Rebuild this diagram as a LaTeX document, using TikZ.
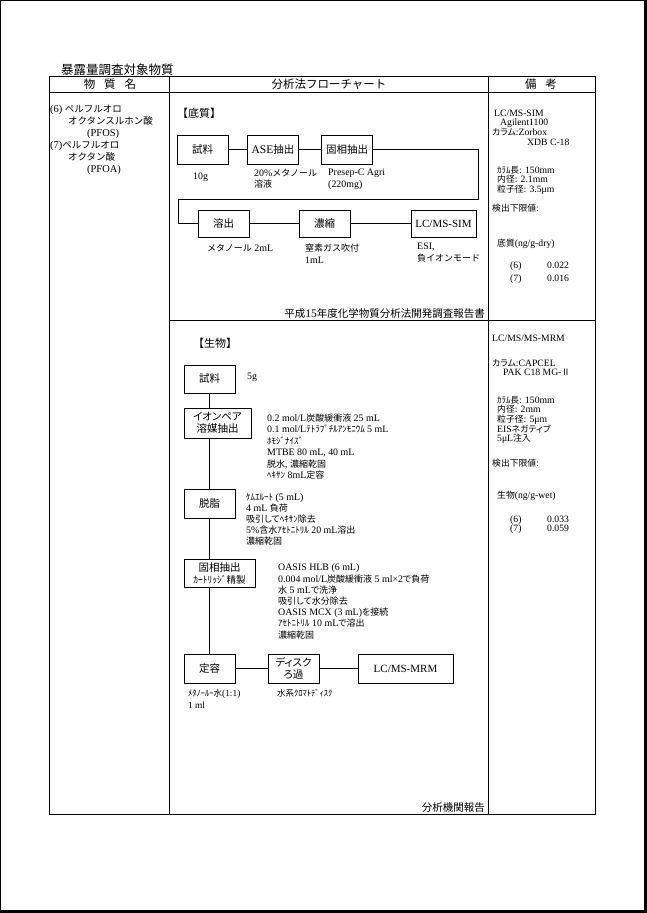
\documentclass[tikz,border=0pt]{standalone}
\usepackage{fontspec}
\setmainfont{Liberation Serif}[Scale=1.1]
\newfontfamily\jpmono{Noto Sans CJK JP}
\newfontfamily\jpprop[RawFeature=+palt]{Noto Sans CJK JP}
\usetikzlibrary{calc}

% Japanese characters are set in the CJK font, the rest in the main font
\newcommand\jpcur{\jpmono}
\newcommand\propjp{\let\jpcur\jpprop}
\XeTeXinterchartokenstate=1
\newXeTeXintercharclass\jpclass
\newcount\jpcode
\newcommand\jprange[2]{%
  \jpcode=#1\relax
  \loop
    \XeTeXcharclass\jpcode=\jpclass
    \advance\jpcode by 1
  \ifnum\jpcode<#2\relax\repeat}
\jprange{"2160}{"2180}
\jprange{"3000}{"3100}
\jprange{"4E00}{"A000}
\jprange{"FF00}{"FFF0}
\XeTeXinterchartoks 0 \jpclass = {\jpcur}
\XeTeXinterchartoks 4095 \jpclass = {\jpcur}
\XeTeXinterchartoks \jpclass 0 = {\rmfamily}
\XeTeXinterchartoks \jpclass 4095 = {\rmfamily}

\begin{document}
\lineskiplimit=-9pt
\begin{tikzpicture}[
    x=1pt, y=-1pt,
    grid/.style={line width=0.9pt},
    link/.style={line width=0.8pt},
    head/.style={inner sep=0pt, font=\fontsize{11.5}{13}\selectfont},
    stepbox/.style={draw, line width=0.9pt, inner sep=0pt, minimum width=51pt,
                    minimum height=29pt, align=center,
                    font=\fontsize{10.5}{12}\selectfont\propjp},
    memo/.style={inner sep=0pt, anchor=west, font=\fontsize{9}{11.5}\selectfont},
    block/.style={memo, anchor=north west, align=left},
    remark/.style={block, font=\fontsize{8.8}{9.6}\selectfont\propjp}
  ]

  \useasboundingbox (0,0) rectangle (647,913);

  % Page frame with its shadow
  \draw[line width=1pt] (0.5,0.5) rectangle (644,910);
  \fill (643.7,0) rectangle (647,913);
  \fill (0,909.5) rectangle (647,913);

  % Title and table
  \node[inner sep=0pt, anchor=west, font=\fontsize{12.5}{14}\selectfont] (title)
    at (61,69.5) {暴露量調査対象物質};
  \draw[grid] (49.5,76) rectangle (595,814);
  \draw[grid] (49.5,92) -- (595,92);
  \foreach \x in {169.5,488}
    \draw[grid] (\x,76) -- (\x,814);
  \draw[grid] (169.5,320) -- (595,320);

  \node[head] (hname) at (110,84) {物\hspace{9pt}質\hspace{9pt}名};
  \node[head] (hflow) at (329,84) {分析法フローチャート};
  \node[head] (hnote) at (541,84) {備\hspace{9pt}考};

  % Target substances
  \node[block, font=\fontsize{9.5}{12}\selectfont] (target) at (50,104.6)
    {(6) ペルフルオロ\\\hspace*{18pt}オクタンスルホン酸\\\hspace*{37pt}(PFOS)\\
     (7)ペルフルオロ\\\hspace*{18pt}オクタン酸\\\hspace*{37pt}(PFOA)};

  % Sediment flow
  \node[inner sep=0pt, anchor=west, font=\fontsize{11}{13}\selectfont] (sedi)
    at (177,113.5) {【底質】};
  \node[stepbox] (sample1) at (202.5,149.5) {試料};
  \node[stepbox] (ase) at (273,149.5) {ASE抽出};
  \node[stepbox] (spe1) at (347,149.5) {固相抽出};
  \node[stepbox, minimum height=27pt] (elute) at (223.5,223.5) {溶出};
  \node[stepbox, minimum height=27pt] (conc) at (324.5,223.5) {濃縮};
  \node[stepbox, minimum width=65pt, minimum height=27pt,
        font=\fontsize{10}{12}\selectfont] (lcms1) at (443.5,223.5) {LC/MS-SIM};

  \coordinate (turnR) at (478,199);
  \coordinate (turnL) at (178,199);
  \foreach \a/\b in {sample1/ase, ase/spe1, elute/conc, conc/lcms1}
    \draw[link] (\a.east) -- (\b.west);
  \draw[link] (spe1.east) -| (turnR) -- (turnL) |- (elute.west);

  \node[memo] (m10g) at (193,177) {10g};
  \node[block] (mase) at (254,168.8) {20\%メタノール\\溶液};
  \node[block] (mpresep) at (328,168.8) {Presep-C Agri\\(220mg)};
  \node[memo] (mmeoh) at (207,248) {メタノール 2mL};
  \node[block] (mnitro) at (305,243.8) {窒素ガス吹付\\1mL};
  \node[block] (mesi) at (417,242.8) {ESI,\\負イオンモード};

  \node[inner sep=0pt, anchor=east, font=\fontsize{10.5}{12}\selectfont] (src1)
    at (485,314) {平成15年度化学物質分析法開発調査報告書};

  % Biota flow
  \node[inner sep=0pt, anchor=west, font=\fontsize{11}{13}\selectfont] (bio)
    at (193,343) {【生物】};
  \node[stepbox, minimum height=28pt] (sample2) at (209.5,379) {試料};
  \node[stepbox, minimum width=67pt, minimum height=30pt] (ionpair)
    at (217.5,423) {イオンペア\\溶媒抽出};
  \node[stepbox] (defat) at (209.5,503.5) {脱脂};
  \node[stepbox, minimum width=71pt, minimum height=28pt] (spe2)
    at (219.5,573) {固相抽出\\{\fontsize{9.5}{10}\selectfont ｶｰﾄﾘｯｼﾞ精製}};
  \node[stepbox] (vol) at (209.5,668.5) {定容};
  \node[stepbox] (filt) at (293.5,668.5) {ディスク\\ろ過};
  \node[stepbox, minimum width=95pt, font=\fontsize{10}{12}\selectfont] (lcms2)
    at (405.5,668.5) {LC/MS-MRM};

  \foreach \a/\b in {sample2/ionpair, ionpair/defat, defat/spe2, spe2/vol}
    \draw[link] (\a.south -| sample2.south) -- (\b.north -| sample2.south);
  \foreach \a/\b in {vol/filt, filt/lcms2}
    \draw[link] (\a.east) -- (\b.west);

  \node[memo] (m5g) at (247,377) {5g};
  \node[block, font=\fontsize{9}{11.4}\selectfont\propjp] (mionpair) at (267,413.8)
    {0.2 mol/L炭酸緩衝液 25 mL\\0.1 mol/Lﾃﾄﾗﾌﾞﾁﾙｱﾝﾓﾆｳﾑ 5 mL\\ﾎﾓｼﾞﾅｲｽﾞ\\
     MTBE 80 mL, 40 mL\\脱水, 濃縮乾固\\ﾍｷｻﾝ 8mL定容};
  \node[block, font=\fontsize{9}{11}\selectfont\propjp] (mdefat) at (246,493.8)
    {ｹﾑｴﾙｰﾄ (5 mL)\\4 mL 負荷\\吸引してﾍｷｻﾝ除去\\5\%含水ｱｾﾄﾆﾄﾘﾙ 20 mL溶出\\濃縮乾固};
  \node[block, font=\fontsize{9}{11.2}\selectfont\propjp] (mspe2) at (278,563.8)
    {OASIS HLB (6 mL)\\0.004 mol/L炭酸緩衝液 5 ml×2で負荷\\水 5 mLで洗浄\\
     吸引して水分除去\\OASIS MCX (3 mL)を接続\\ｱｾﾄﾆﾄﾘﾙ 10 mLで溶出\\濃縮乾固};
  \node[block, font=\fontsize{8.5}{12}\selectfont\propjp] (mvol) at (188,689)
    {ﾒﾀﾉｰﾙｰ水(1:1)\\1 ml};
  \node[memo, font=\fontsize{8.5}{10}\selectfont\propjp] (mfilt) at (277,693)
    {水系ｸﾛﾏﾄﾃﾞｨｽｸ};

  \node[inner sep=0pt, anchor=east, font=\fontsize{10.5}{12}\selectfont] (src2)
    at (485,808) {分析機関報告};

  % Remarks
  \node[remark] (note1) at (492,109.6)
    {\hspace*{2pt}LC/MS-SIM\\\hspace*{8pt}Agilent1100\\カラム:Zorbox\\
     \hspace*{35pt}XDB C-18\\[18.6pt]
     \hspace*{5pt}ｶﾗﾑ長: 150mm\\\hspace*{5pt}内径: 2.1mm\\
     \hspace*{5pt}粒子径: 3.5μm\\[9.2pt]
     検出下限値:\\[25.4pt]
     \hspace*{5pt}底質(ng/g-dry)\\[12.4pt]
     \hspace*{18pt}\makebox[37pt][l]{(6)}0.022\\[3.4pt]
     \hspace*{18pt}\makebox[37pt][l]{(7)}0.016};
  \node[remark] (note2) at (492,334.6)
    {LC/MS/MS-MRM\\[15.4pt]
     カラム:CAPCEL\\\hspace*{11pt}PAK C18 MG-Ⅱ\\[17.8pt]
     \hspace*{5pt}ｶﾗﾑ長: 150mm\\\hspace*{5pt}内径: 2mm\\
     \hspace*{5pt}粒子径: 5μm\\\hspace*{5pt}EISネガティブ\\
     \hspace*{5pt}5μL注入\\[15pt]
     検出下限値:\\[22.4pt]
     \hspace*{5pt}生物(ng/g-wet)\\[14.4pt]
     \hspace*{18pt}\makebox[37pt][l]{(6)}0.033\\
     \hspace*{18pt}\makebox[37pt][l]{(7)}0.059};

\end{tikzpicture}
\end{document}
